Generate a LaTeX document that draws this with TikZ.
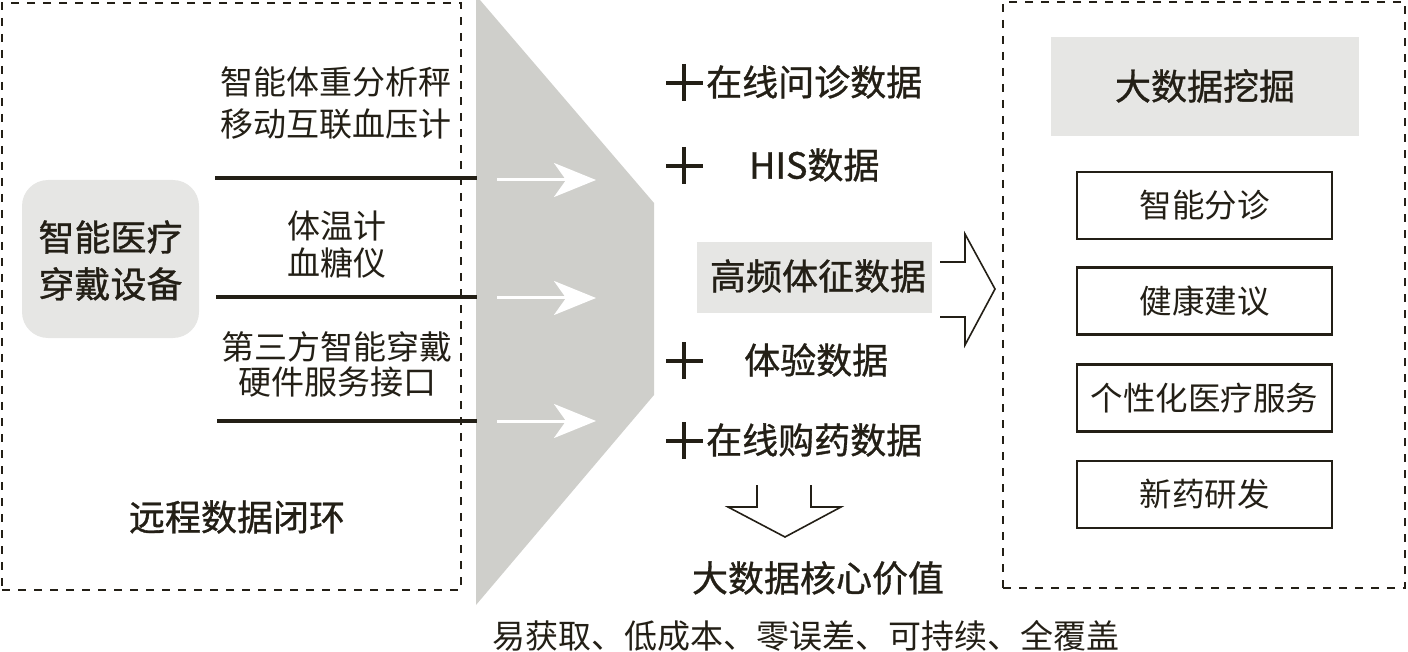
\documentclass[tikz,border=0pt]{standalone}
\usepackage{fontspec}
\newfontfamily\cjk{Noto Sans CJK SC}
\newfontfamily\cjkb[FakeBold=0.9]{Noto Sans CJK SC}
\usetikzlibrary{arrows.meta}
\definecolor{ink}{HTML}{231F16}
\definecolor{funnel}{HTML}{CFCFCB}
\definecolor{lightbox}{HTML}{E6E6E4}
\begin{document}
\begin{tikzpicture}[x=1pt,y=-1pt,
  serif/.style={font=\cjk\fontsize{33}{36}\selectfont, text=ink, inner sep=0pt},
  sans/.style={font=\cjkb\fontsize{36}{40}\selectfont, text=ink, inner sep=0pt},
  dashbox/.style={draw=ink, line width=2pt, dash pattern=on 8pt off 8pt, inner sep=0pt},
  rule/.style={draw=ink, line width=4pt},
  plussign/.style={draw=ink, line width=4pt},
  whitearrow/.style={draw=white, line width=3pt, -{Stealth[length=42pt,width=34pt,inset=12pt]}},
  outbox/.style={draw=ink, line width=2.2pt, minimum width=255pt, minimum height=67pt, inner sep=0pt, font=\cjk\fontsize{32.5}{36}\selectfont, text=ink},
  openarrow/.style={draw=ink, line width=1.6pt, line join=miter},
]
\useasboundingbox (0,0) rectangle (1408,652);

% funnel
\fill[funnel] (476,0) -- (480,0) -- (654,203) -- (654,395) -- (476,605) -- cycle;

% left dashed box
\node[dashbox, minimum width=459pt, minimum height=587pt] (leftbox) at (231.5,296.5) {};
% right dashed box
\node[dashbox, minimum width=402pt, minimum height=586pt] (rightbox) at (1204,295) {};

% device box
\node[fill=lightbox, rounded corners=26pt, minimum width=177pt, minimum height=158pt, inner sep=0pt] (dev) at (110.5,259) {};
\node[sans] (devA) at (110.5,237) {智能医疗};
\node[sans] (devB) at (110.5,284) {穿戴设备};

% left labels
\node[serif] (la1) at (336,82) {智能体重分析秤};
\node[serif] (la2) at (336,124) {移动互联血压计};
\node[serif] (lb1) at (337,226) {体温计};
\node[serif] (lb2) at (337,263) {血糖仪};
\node[serif] (lc1) at (337,347) {第三方智能穿戴};
\node[serif] (lc2) at (337,382) {硬件服务接口};
\node[sans] (remote) at (237,517) {远程数据闭环};

% rules
\coordinate (r1s) at (215,178); \coordinate (r1e) at (477,178);
\coordinate (r2s) at (216,297); \coordinate (r2e) at (477,297);
\coordinate (r3s) at (217,421); \coordinate (r3e) at (477,421);
\draw[rule] (r1s) -- (r1e);
\draw[rule] (r2s) -- (r2e);
\draw[rule] (r3s) -- (r3e);

% white arrows
\coordinate (a1s) at (497,180); \coordinate (a1e) at (596,180);
\coordinate (a2s) at (497,298); \coordinate (a2e) at (596,298);
\coordinate (a3s) at (497,421); \coordinate (a3e) at (596,421);
\draw[whitearrow] (a1s) -- (a1e);
\draw[whitearrow] (a2s) -- (a2e);
\draw[whitearrow] (a3s) -- (a3e);

% middle column
\draw[plussign] (666,83) -- (703,83) (684,64) -- (684,101);
\draw[plussign] (666,166) -- (703,166) (684,147) -- (684,184);
\draw[plussign] (666,361) -- (703,361) (684,342) -- (684,379);
\draw[plussign] (666,441) -- (703,441) (684,422) -- (684,459);
\node[sans, anchor=west] (m1) at (706,82) {在线问诊数据};
\node[sans, anchor=west] (m2) at (749,165) {HIS数据};
\node[fill=lightbox, minimum width=235pt, minimum height=71pt, inner sep=0pt] (hibox) at (814.5,277.5) {};
\node[sans] (m3) at (818,276) {高频体征数据};
\node[sans, anchor=west] (m4) at (744,360) {体验数据};
\node[sans, anchor=west] (m5) at (706,440) {在线购药数据};

% open right arrow
\draw[openarrow] (940,262) -- (965,262) -- (965,234) -- (995,289) -- (965,345) -- (965,317) -- (940,317);
% open down arrow
\draw[openarrow] (757,485) -- (757,507) -- (728,507) -- (785,537) -- (841,507) -- (811,507) -- (811,485);

\node[sans] (core) at (818,578) {大数据核心价值};
\node[serif] (props) at (806,636) {易获取、低成本、零误差、可持续、全覆盖};

% right column
\node[fill=lightbox, minimum width=308pt, minimum height=99pt, inner sep=0pt] (mine) at (1205,86.5) {};
\node[sans] (mineT) at (1205,86) {大数据挖掘};
\node[outbox] (o1) at (1204.5,205.5) {智能分诊};
\node[outbox] (o2) at (1204.5,301) {健康建议};
\node[outbox] (o3) at (1204.5,398) {个性化医疗服务};
\node[outbox] (o4) at (1204.5,494.5) {新药研发};
\end{tikzpicture}
\end{document}
